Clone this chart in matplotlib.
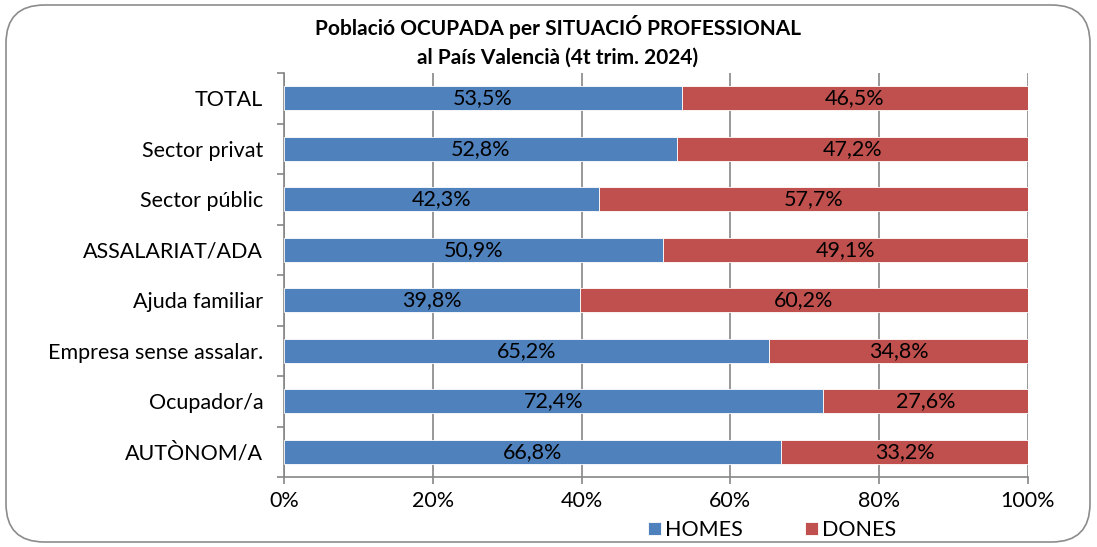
import matplotlib.pyplot as plt
import numpy as np
from matplotlib.patches import FancyBboxPatch

plt.rcParams['font.family'] = ['Lato', 'DejaVu Sans']

categories = ['TOTAL', 'Sector privat', 'Sector públic', 'ASSALARIAT/ADA',
              'Ajuda familiar', 'Empresa sense assalar.', 'Ocupador/a', 'AUTÒNOM/A']
homes = [53.5, 52.8, 42.3, 50.9, 39.8, 65.2, 72.4, 66.8]
dones = [46.5, 47.2, 57.7, 49.1, 60.2, 34.8, 27.6, 33.2]
x_ticks = [0, 20, 40, 60, 80, 100]

blue = '#4F81BD'
red = '#C0504D'
grey = '#868686'
fs = 15.5

fig = plt.figure(figsize=(10.97, 5.47), dpi=100)
ax = fig.add_axes([284/1097, 70/547, 744/1097, 404/547])

# rounded frame around the whole chart
frame = FancyBboxPatch((6/1097, 5/547), 1084/1097, 537/547,
                       boxstyle='round,pad=0,rounding_size=0.035',
                       transform=fig.transFigure, facecolor='none',
                       edgecolor='#8c8c8c', linewidth=1.2, mutation_aspect=2.0)
fig.patches.append(frame)

y = np.arange(len(categories))
b1 = ax.barh(y, homes, height=0.48, color=blue, edgecolor='white', linewidth=0.6,
             label='HOMES', zorder=3)
b2 = ax.barh(y, dones, left=homes, height=0.48, color=red, edgecolor='white',
             linewidth=0.6, label='DONES', zorder=3)

for i in range(len(categories)):
    ax.text(homes[i] / 2, y[i], ('%.1f%%' % homes[i]).replace('.', ','),
            ha='center', va='center', fontsize=fs, zorder=4)
    ax.text(homes[i] + dones[i] / 2, y[i], ('%.1f%%' % dones[i]).replace('.', ','),
            ha='center', va='center', fontsize=fs, zorder=4)

ax.set_xlim(0, 100)
ax.set_ylim(len(categories) - 0.5, -0.5)
ax.set_xticks(x_ticks)
ax.set_xticklabels(['%d%%' % v for v in x_ticks], fontsize=fs)
ax.set_yticks(y)
ax.set_yticklabels(categories, fontsize=fs)
ax.set_yticks(np.arange(-0.5, len(categories), 1), minor=True)
ax.tick_params(axis='y', which='major', length=0, pad=15)
ax.tick_params(axis='y', which='minor', length=5, color=grey, width=1.2)
ax.tick_params(axis='x', length=5, color=grey, width=1.2, pad=5)

ax.xaxis.grid(True, color=grey, linewidth=1.2, zorder=0)
ax.set_axisbelow(True)
for s in ['top', 'right']:
    ax.spines[s].set_visible(False)
for s in ['left', 'bottom']:
    ax.spines[s].set_color(grey)
    ax.spines[s].set_linewidth(1.2)

fig.text(558/1097, 1 - 27/547, 'Població OCUPADA per SITUACIÓ PROFESSIONAL',
         ha='center', va='center', fontsize=15, fontweight='bold')
fig.text(558/1097, 1 - 58/547, 'al País Valencià (4t trim. 2024)',
         ha='center', va='center', fontsize=15, fontweight='bold')

fig.legend(handles=[b1, b2], loc='center', bbox_to_anchor=(772/1097, 1 - 530/547),
           ncol=2, frameon=False, fontsize=fs, handlelength=0.6, handleheight=0.6,
           handletextpad=0.2, columnspacing=2.9)

plt.savefig('out.png', dpi=100)
